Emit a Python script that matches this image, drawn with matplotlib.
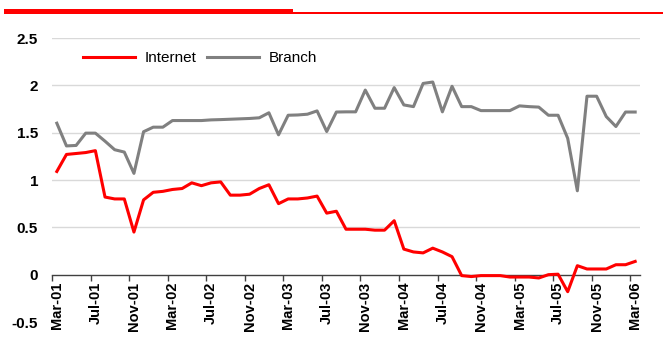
import numpy as np
import pandas as pd
import matplotlib
matplotlib.use("Agg")
import matplotlib.pyplot as plt
from matplotlib.patches import Rectangle

plt.rcParams['font.family'] = ['Liberation Sans', 'DejaVu Sans']

# monthly series, Mar-01 .. Mar-06
months = pd.date_range("2001-03-01", periods=61, freq="MS").strftime("%b-%y").tolist()

internet = [1.09, 1.27, 1.28, 1.29, 1.31, 0.82, 0.80, 0.80, 0.45, 0.79,
            0.87, 0.88, 0.90, 0.91, 0.97, 0.94, 0.97, 0.98, 0.84, 0.84,
            0.85, 0.91, 0.95, 0.75, 0.80, 0.80, 0.81, 0.83, 0.65, 0.67,
            0.48, 0.48, 0.48, 0.47, 0.47, 0.57, 0.27, 0.24, 0.23, 0.28,
            0.24, 0.19, -0.01, -0.02, -0.01, -0.01, -0.01, -0.025, -0.025, -0.025,
            -0.035, 0.0, 0.005, -0.18, 0.095, 0.06, 0.06, 0.06, 0.105, 0.105, 0.14]

branch = [1.60, 1.36, 1.365, 1.495, 1.495, 1.41, 1.32, 1.295, 1.07, 1.51,
          1.558, 1.558, 1.628, 1.628, 1.628, 1.628, 1.635, 1.638, 1.642, 1.646,
          1.65, 1.657, 1.71, 1.477, 1.684, 1.687, 1.695, 1.73, 1.512, 1.718,
          1.72, 1.72, 1.95, 1.758, 1.758, 1.976, 1.793, 1.775, 2.02, 2.035,
          1.72, 1.99, 1.775, 1.775, 1.733, 1.733, 1.733, 1.733, 1.783, 1.775,
          1.77, 1.684, 1.684, 1.44, 0.886, 1.885, 1.885, 1.67, 1.565, 1.718, 1.718]

yticks = [-0.5, 0, 0.5, 1, 1.5, 2, 2.5]
ytick_labels = ["-0.5", "0", "0.5", "1", "1.5", "2", "2.5"]

W, H = 663, 349
fig = plt.figure(figsize=(W / 100, H / 100), dpi=100)
ax = fig.add_axes([52 / W, 1 - 322 / H, (640 - 52) / W, (322 - 38) / H])

# axis line sits at zero (this resets ticks, so do it first)
for s in ["left", "right", "top"]:
    ax.spines[s].set_visible(False)
ax.spines["bottom"].set_position(("data", 0))
ax.spines["bottom"].set_color("#404040")
ax.spines["bottom"].set_linewidth(1.0)

x = np.arange(len(months))

for v in yticks:
    if v > 0:
        ax.axhline(v, color="#d9d9d9", lw=1.0, zorder=0)

ax.plot(x, internet, color="#ff0000", lw=2.2, label="Internet", zorder=3)
ax.plot(x, branch, color="#808080", lw=2.2, label="Branch", zorder=2)

ax.set_xlim(-0.5, len(months) - 0.5)
ax.set_ylim(-0.5, 2.5)

# category axis: labels at every 4th month, tick marks on category edges
lab_idx = x[::4]
ax.set_xticks(lab_idx)
ax.set_xticks(lab_idx - 0.5, minor=True)
ax.tick_params(axis="x", which="major", length=0, pad=5)
ax.tick_params(axis="x", which="minor", length=4, width=1, color="#404040", direction="out")
ax.set_xticklabels([months[i] for i in lab_idx], rotation=90,
                   fontsize=10.5, fontweight="bold", va="top", ha="center")

ax.set_yticks(yticks)
ax.tick_params(axis="y", length=0, pad=10)
ax.set_yticklabels(ytick_labels, fontsize=11, fontweight="bold")

leg = ax.legend(loc="center left", bbox_to_anchor=(83 / W, 1 - 58 / H),
                bbox_transform=fig.transFigure, ncol=2, frameon=False,
                fontsize=11, handlelength=3.4, handletextpad=0.65,
                columnspacing=0.65, borderpad=0, borderaxespad=0)

# header rule
fig.add_artist(Rectangle((4 / W, 1 - 13.5 / H), 289 / W, 5 / H,
                         transform=fig.transFigure, color="#ff0000", lw=0))
fig.add_artist(Rectangle((293 / W, 1 - 13.5 / H), (W - 293) / W, 1.5 / H,
                         transform=fig.transFigure, color="#ff0000", lw=0))

fig.savefig("out.png", dpi=100)
